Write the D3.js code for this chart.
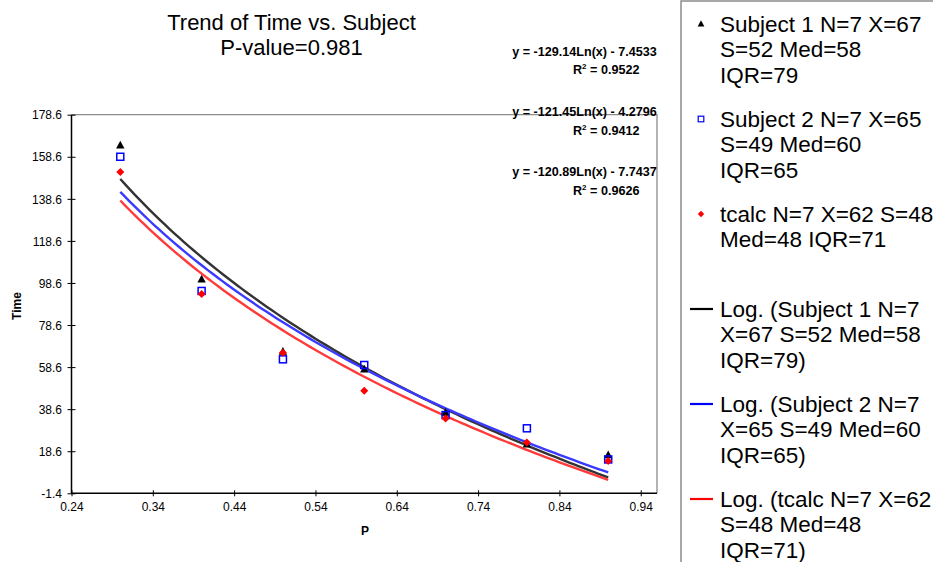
<!DOCTYPE html>
<html><head><meta charset="utf-8">
<script src="https://cdn.jsdelivr.net/npm/d3@7"></script>
<style>
body{margin:0;background:#fff;}
svg{display:block;font-family:Arial,"Liberation Sans",sans-serif;}
</style></head>
<body><svg id="c" width="933" height="562"></svg>
<script>
// ---- data ----
const xValues = [0.3, 0.4, 0.5, 0.6, 0.7, 0.8, 0.9];
const subject1 = [164.0, 100.3, 66.0, 57.5, 37.0, 21.9, 16.8];
const subject2 = [158.6, 94.8, 62.3, 59.6, 35.8, 29.5, 14.7];
const tcalc    = [151.4, 93.3, 65.4, 47.4, 34.2, 22.8, 13.9];
const seriesNames = ["Subject 1 N=7 X=67 S=52 Med=58 IQR=79", "Subject 2 N=7 X=65 S=49 Med=60 IQR=65", "tcalc N=7 X=62 S=48 Med=48 IQR=71"];
const trendSlopes = [-129.14, -121.45, -120.89];
const trendIntercepts = [-7.4533, -4.2796, -7.7437];
const trendR2 = ["0.9522", "0.9412", "0.9626"];
const xTicks = [0.24, 0.34, 0.44, 0.54, 0.64, 0.74, 0.84, 0.94];
const yTicks = [-1.4, 18.6, 38.6, 58.6, 78.6, 98.6, 118.6, 138.6, 158.6, 178.6];
const legendLines = [
  ["Subject 1 N=7 X=67", "S=52 Med=58", "IQR=79"],
  ["Subject 2 N=7 X=65", "S=49 Med=60", "IQR=65"],
  ["tcalc N=7 X=62 S=48", "Med=48 IQR=71"],
  ["Log. (Subject 1 N=7", "X=67 S=52 Med=58", "IQR=79)"],
  ["Log. (Subject 2 N=7", "X=65 S=49 Med=60", "IQR=65)"],
  ["Log. (tcalc N=7 X=62", "S=48 Med=48", "IQR=71)"]
];

// ---- layout ----
const svg = d3.select("#c");
const L = 71.5, T = 114.7, R = 657, B = 493.3;
const x = d3.scaleLinear().domain([0.24, 0.96]).range([L, R]);
const y = d3.scaleLinear().domain([-1.4, 178.6]).range([B, T]);

const markerColors = ["#000000", "#0000ff", "#ff0000"];
const lineColors = ["#333333", "#3a3aff", "#ff3a3a"];
const series = [subject1, subject2, tcalc];

// plot border (top/right gray)
svg.append("path")
  .attr("d", `M${L},${T}H${R}V${B}`)
  .attr("fill", "none").attr("stroke", "#8c8c8c").attr("stroke-width", 1.3);

// axes
const yAxis = d3.axisLeft(y).tickValues(yTicks).tickFormat(d => d.toFixed(1)).tickSize(0);
const gy = svg.append("g").attr("transform", `translate(${L},0)`).call(yAxis);
gy.select(".domain").remove();
gy.selectAll("text").attr("font-size", 12).attr("fill", "#000").attr("x", -9.5).attr("dy", "0.35em");
gy.selectAll(".tick").append("line").attr("x1", -4).attr("x2", 4).attr("stroke", "#000").attr("stroke-width", 1);

const xAxis = d3.axisBottom(x).tickValues(xTicks).tickFormat(d => d.toFixed(2)).tickSize(0);
const gx = svg.append("g").attr("transform", `translate(0,${B})`).call(xAxis);
gx.select(".domain").remove();
gx.selectAll("text").attr("font-size", 12).attr("fill", "#000").attr("y", 9).attr("dy", "0.71em");
gx.selectAll(".tick").append("line").attr("y1", -3).attr("y2", 3).attr("stroke", "#000").attr("stroke-width", 1);

svg.append("line").attr("x1", L).attr("x2", L).attr("y1", T).attr("y2", B + 0.5)
  .attr("stroke", "#000").attr("stroke-width", 1.5);
svg.append("line").attr("x1", L).attr("x2", R).attr("y1", B).attr("y2", B)
  .attr("stroke", "#000").attr("stroke-width", 1.5);

// axis titles
svg.append("text").attr("transform", `translate(21,306) rotate(-90)`)
  .attr("text-anchor", "middle").attr("font-size", 12).attr("font-weight", "bold").text("Time");
svg.append("text").attr("x", 365).attr("y", 535)
  .attr("text-anchor", "middle").attr("font-size", 12).attr("font-weight", "bold").text("P");

// chart title
svg.append("text").attr("x", 291.5).attr("y", 30).attr("text-anchor", "middle").attr("font-size", 22).text("Trend of Time vs. Subject");
svg.append("text").attr("x", 291.5).attr("y", 55).attr("text-anchor", "middle").attr("font-size", 22).text("P-value=0.981");

// trend lines (from the displayed equations)
const xmin = d3.min(xValues), xmax = d3.max(xValues);
const samples = d3.range(0, 101).map(i => xmin + (xmax - xmin) * i / 100);
const lineGen = d3.line().x(d => x(d[0])).y(d => y(d[1]));
[0, 1, 2].forEach(i => {
  svg.append("path")
    .datum(samples.map(s => [s, trendSlopes[i] * Math.log(s) + trendIntercepts[i]]))
    .attr("d", lineGen).attr("fill", "none")
    .attr("stroke", lineColors[i]).attr("stroke-width", 2.4);
});

// markers
const triPath = "M0,-4.6L4.2,3.2L-4.2,3.2Z";
const diaPath = "M0,-4L4,0L0,4L-4,0Z";
function drawMarker(g, k) {
  if (k === 0) g.append("path").attr("d", triPath).attr("fill", "#000");
  else if (k === 1) g.append("rect").attr("x", -3.5).attr("y", -3.5).attr("width", 7).attr("height", 7)
      .attr("fill", "none").attr("stroke", "#0000ff").attr("stroke-width", 1.5);
  else g.append("path").attr("d", diaPath).attr("fill", "#ff0000");
}
[0, 1, 2].forEach(k => {
  series[k].forEach((v, j) => {
    const g = svg.append("g").attr("transform", `translate(${x(xValues[j])},${y(v)})`);
    drawMarker(g, k);
  });
});

// trendline equation labels
const eqY = [55.5, 116, 176];
[0, 1, 2].forEach(i => {
  const sgn = trendIntercepts[i] < 0 ? " - " : " + ";
  svg.append("text").attr("x", 584.5).attr("y", eqY[i]).attr("text-anchor", "middle")
    .attr("font-size", 12.6).attr("font-weight", "bold")
    .text(`y = ${trendSlopes[i].toFixed(2)}Ln(x)${sgn}${Math.abs(trendIntercepts[i]).toFixed(4)}`);
  const t = svg.append("text").attr("x", 573).attr("y", eqY[i] + 18.5)
    .attr("font-size", 12.6).attr("font-weight", "bold");
  t.append("tspan").text("R");
  t.append("tspan").attr("font-size", 8).attr("dy", -5).text("2");
  t.append("tspan").attr("dy", 5).text(" = " + trendR2[i]);
});

// legend
svg.append("path").attr("d", "M681,562V1H933").attr("fill", "none").attr("stroke", "#8c8c8c").attr("stroke-width", 1.5);
legendLines.forEach((lines, i) => {
  const base = 32 + 95 * i;
  lines.forEach((ln, j) => {
    svg.append("text").attr("x", 720).attr("y", base + 25.3 * j).attr("font-size", 22.5).attr("fill", "#000").text(ln);
  });
  const cy = base - 8;
  if (i < 3) {
    const g = svg.append("g").attr("transform", `translate(701,${cy}) scale(0.8)`);
    drawMarker(g, i);
  } else {
    svg.append("line").attr("x1", 690).attr("x2", 713).attr("y1", cy).attr("y2", cy)
      .attr("stroke", markerColors[i - 3]).attr("stroke-width", 2.2);
  }
});
</script></body></html>
